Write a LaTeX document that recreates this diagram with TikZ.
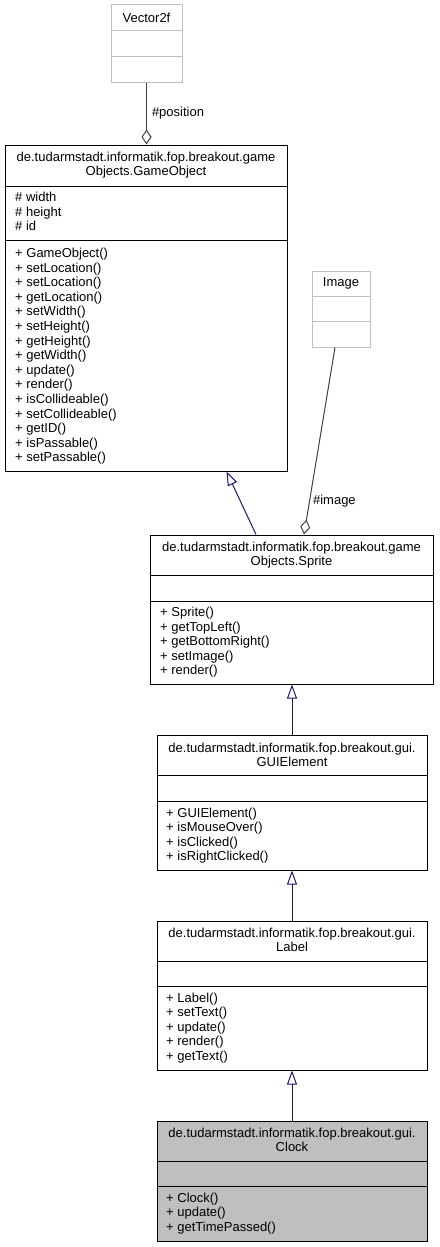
\documentclass[tikz,border=0pt]{standalone}
\usepackage{fontspec}
\setmainfont{Liberation Sans}
\usetikzlibrary{arrows.meta}

\definecolor{edgeblue}{HTML}{191970}
\definecolor{edgegrey}{HTML}{404040}
\definecolor{extgrey}{HTML}{BFBFBF}

\tikzset{
  classbox/.style={draw=black, line width=1pt, fill=white, inner sep=0pt},
  extbox/.style={draw=extgrey, line width=1pt, fill=white, inner sep=0pt},
  title/.style={font=\fontsize{13}{14.6}\selectfont, align=center, inner sep=0pt},
  members/.style={font=\fontsize{13}{14.6}\selectfont, align=left, inner sep=0pt, anchor=base west},
  role/.style={font=\fontsize{13}{14.6}\selectfont, inner sep=0pt},
  inherit/.style={draw=edgeblue, line width=1pt, -{Triangle[open, length=14pt, width=10pt]}},
  aggr/.style={draw=edgegrey, line width=1pt, {Diamond[open, length=15pt, width=10pt]}-},
}

\begin{document}
\begin{tikzpicture}[x=1pt, y=-1pt]
\useasboundingbox (0,0) rectangle (439,1247);

% External classes (grey outline)
\node[extbox, minimum width=71pt, minimum height=77pt] (vec) at (146.5,43.5) {};
\node[extbox, minimum width=58pt, minimum height=76pt] (img) at (341,309) {};

% Class boxes
\node[classbox, minimum width=282pt, minimum height=326pt] (go) at (146,308) {};
\node[classbox, minimum width=283pt, minimum height=149pt] (sprite) at (291.5,609.5) {};
\node[classbox, minimum width=270pt, minimum height=135pt] (guiel) at (292,802.5) {};
\node[classbox, minimum width=270pt, minimum height=149pt] (label) at (292,995.5) {};
\node[classbox, fill=extgrey, minimum width=270pt, minimum height=120pt] (clock) at (292,1181) {};

% Compartment lines
\begin{scope}[draw=extgrey, line width=1pt]
\draw (vec.west |- 0,31) -- (vec.east |- 0,31);
\draw (vec.west |- 0,57) -- (vec.east |- 0,57);
\draw (img.west |- 0,296) -- (img.east |- 0,296);
\draw (img.west |- 0,321) -- (img.east |- 0,321);
\end{scope}

\begin{scope}[draw=black, line width=1pt]
\draw (go.west |- 0,186) -- (go.east |- 0,186);
\draw (go.west |- 0,240) -- (go.east |- 0,240);
\draw (sprite.west |- 0,575) -- (sprite.east |- 0,575);
\draw (sprite.west |- 0,601) -- (sprite.east |- 0,601);
\draw (guiel.west |- 0,775) -- (guiel.east |- 0,775);
\draw (guiel.west |- 0,801) -- (guiel.east |- 0,801);
\draw (label.west |- 0,961) -- (label.east |- 0,961);
\draw (label.west |- 0,986) -- (label.east |- 0,986);
\draw (clock.west |- 0,1161) -- (clock.east |- 0,1161);
\draw (clock.west |- 0,1186) -- (clock.east |- 0,1186);
\end{scope}

% Class names
\node[title] (vecT) at (146.5,18) {Vector2f};
\node[title] (imgT) at (341,283) {Image};
\node[title] (goT) at (146,165) {de.tudarmstadt.informatik.fop.breakout.game\\Objects.GameObject};
\node[title] (spriteT) at (291.5,555) {de.tudarmstadt.informatik.fop.breakout.game\\Objects.Sprite};
\node[title] (guielT) at (292,755) {de.tudarmstadt.informatik.fop.breakout.gui.\\GUIElement};
\node[title] (labelT) at (292,940) {de.tudarmstadt.informatik.fop.breakout.gui.\\Label};
\node[title] (clockT) at (292,1140) {de.tudarmstadt.informatik.fop.breakout.gui.\\Clock};

% Attributes and operations (anchored on the last baseline)
\node[members] (goA) at (15,230.7) {\# width\\\# height\\\# id};
\node[members] (goM) at (15,461.9) {+ GameObject()\\+ setLocation()\\+ setLocation()\\+ getLocation()\\+ setWidth()\\+ setHeight()\\+ getHeight()\\+ getWidth()\\+ update()\\+ render()\\+ isCollideable()\\+ setCollideable()\\+ getID()\\+ isPassable()\\+ setPassable()};
\node[members] (spriteM) at (160,674.9) {+ Sprite()\\+ getTopLeft()\\+ getBottomRight()\\+ setImage()\\+ render()};
\node[members] (guielM) at (166,860.8) {+ GUIElement()\\+ isMouseOver()\\+ isClicked()\\+ isRightClicked()};
\node[members] (labelM) at (166,1060.4) {+ Label()\\+ setText()\\+ update()\\+ render()\\+ getText()};
\node[members] (clockM) at (166,1231.2) {+ Clock()\\+ update()\\+ getTimePassed()};

% Aggregations
\draw[aggr] (vec.south |- go.north) -- (vec.south) node[midway, anchor=west, xshift=5pt, role] {\#position};
\draw[aggr] ([xshift=12.5pt]sprite.north) -- ([xshift=-6pt]img.south) node[pos=0.18, anchor=west, xshift=3pt, role] {\#image};

% Generalizations
\draw[inherit] ([xshift=-35.5pt]sprite.north) -- ([xshift=80.5pt]go.south);
\draw[inherit] (guiel.north) -- (guiel.north |- sprite.south);
\draw[inherit] (label.north) -- (guiel.south);
\draw[inherit] (clock.north) -- (label.south);

\end{tikzpicture}
\end{document}
